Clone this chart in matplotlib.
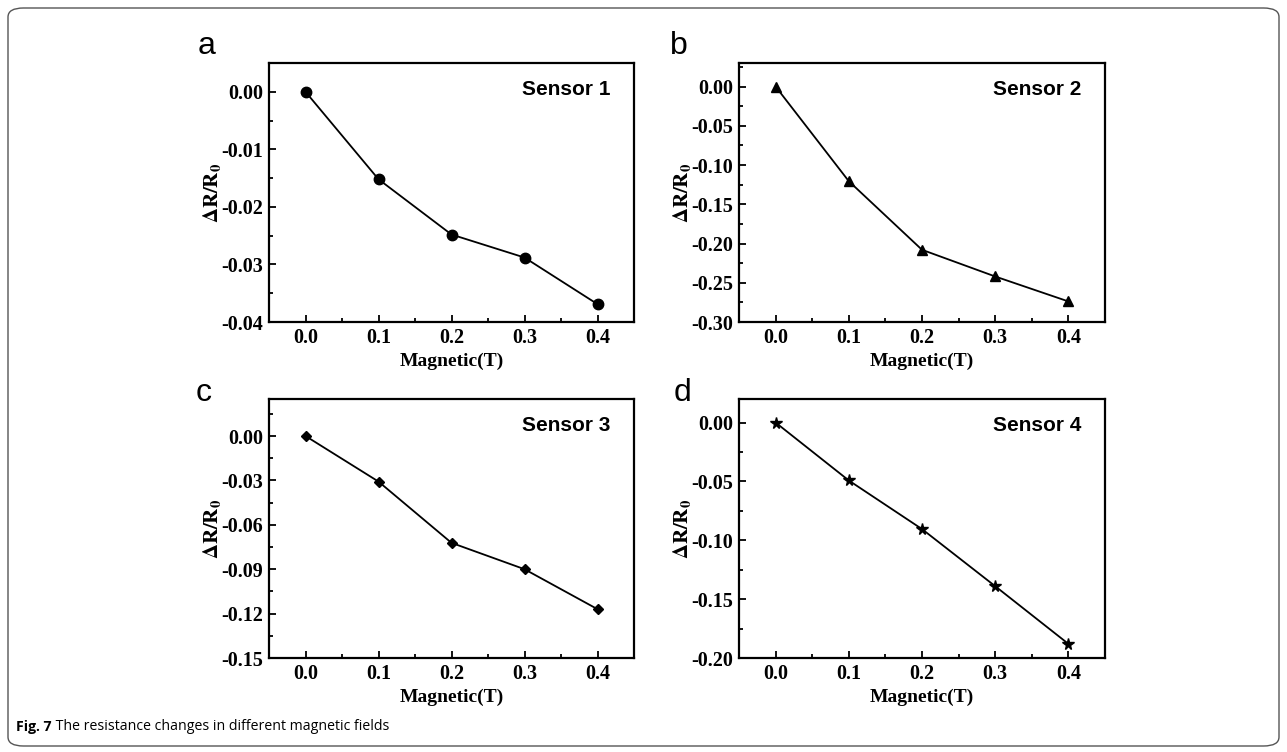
import matplotlib
matplotlib.use("Agg")
import matplotlib.pyplot as plt
from matplotlib.patches import FancyBboxPatch
from matplotlib.ticker import AutoMinorLocator
from matplotlib import font_manager

field = [0.0, 0.1, 0.2, 0.3, 0.4]
sensor1 = [0.0, -0.0152, -0.0248, -0.0288, -0.0369]
sensor2 = [0.0, -0.1206, -0.208, -0.242, -0.2738]
sensor3 = [0.0, -0.0308, -0.0722, -0.090, -0.117]
sensor4 = [0.0, -0.0492, -0.0905, -0.139, -0.188]
panel_letters = ["a", "b", "c", "d"]
sensor_names = ["Sensor 1", "Sensor 2", "Sensor 3", "Sensor 4"]
xticks = [0.0, 0.1, 0.2, 0.3, 0.4]
yticks1 = [0.00, -0.01, -0.02, -0.03, -0.04]
yticks2 = [0.00, -0.05, -0.10, -0.15, -0.20, -0.25, -0.30]
yticks3 = [0.00, -0.03, -0.06, -0.09, -0.12, -0.15]
yticks4 = [0.00, -0.05, -0.10, -0.15, -0.20]
caption_bold = "Fig. 7"
caption_text = " The resistance changes in different magnetic fields"

plt.rcParams["mathtext.fontset"] = "stix"

W, H = 1287, 752
fig = plt.figure(figsize=(W / 100, H / 100), dpi=100)

# outer rounded frame
frame = FancyBboxPatch((8 / W, 6 / H), (W - 16) / W, (H - 14) / H,
                       boxstyle="round,pad=0,rounding_size=0.012",
                       transform=fig.transFigure, fill=False,
                       edgecolor="#555555", linewidth=1.0)
fig.patches.append(frame)

series = [sensor1, sensor2, sensor3, sensor4]
ytick_sets = [yticks1, yticks2, yticks3, yticks4]
markers = ["o", "^", "D", "*"]
msizes = [7.5, 6.5, 5.5, 8.5]
ylims = [(-0.04, 0.005), (-0.30, 0.03), (-0.15, 0.025), (-0.20, 0.02)]

# axes rectangles in pixel coords (left, top, right, bottom)
rects = [(269, 63, 634, 322), (739, 63, 1105, 322),
         (269, 399, 634, 658), (739, 399, 1105, 658)]
letter_pos = [(198, 46), (670, 46), (196, 393), (674, 393)]

serif = ["Liberation Serif", "DejaVu Serif"]
sans = ["Liberation Sans", "DejaVu Sans"]

for i in range(4):
    l, t, r, b = rects[i]
    ax = fig.add_axes([l / W, 1 - b / H, (r - l) / W, (b - t) / H])
    ax.plot(field, series[i], color="black", linewidth=1.3,
            marker=markers[i], markersize=msizes[i], markerfacecolor="black",
            markeredgecolor="black")
    ax.set_xlim(-0.05, 0.45)
    ax.set_ylim(*ylims[i])
    ax.set_xticks(xticks)
    ax.set_yticks(ytick_sets[i])
    ax.set_xticklabels(["%.1f" % v for v in xticks])
    ax.set_yticklabels(["%.2f" % v for v in ytick_sets[i]])
    ax.xaxis.set_minor_locator(AutoMinorLocator(2))
    ax.yaxis.set_minor_locator(AutoMinorLocator(2))
    ax.tick_params(which="both", direction="in", top=False, right=False,
                   width=1.3, labelsize=14.5)
    ax.tick_params(which="major", length=5, pad=4)
    ax.tick_params(which="minor", length=3)
    for lab in ax.get_xticklabels() + ax.get_yticklabels():
        lab.set_fontfamily(serif)
        lab.set_fontweight("bold")
    for s in ax.spines.values():
        s.set_linewidth(1.6)
    ax.set_xlabel("Magnetic(T)", fontfamily=serif, fontweight="bold",
                  fontsize=14, labelpad=4)
    ax.set_ylabel(r"$\mathbf{\Delta R/R_0}$", fontsize=15, labelpad=-1)
    ax.text(0.935, 0.935, sensor_names[i], transform=ax.transAxes,
            ha="right", va="top", fontfamily=sans, fontweight="bold",
            fontsize=15)
    lx, ly = letter_pos[i]
    fig.text(lx / W, 1 - ly / H, panel_letters[i], fontfamily=sans,
             fontsize=23, ha="left", va="center")

# caption: choose a narrow sans if available, sized to the reference width
names = {f.name for f in font_manager.fontManager.ttflist}
cap_font = ["Liberation Sans Narrow"] if "Liberation Sans Narrow" in names else ["Open Sans"]
cap_font = cap_font + ["DejaVu Sans"]
fs = 12.0
target = 372.0
t1 = fig.text(16 / W, 1 - 727 / H, caption_bold, fontfamily=cap_font,
              fontweight="bold", fontsize=fs, ha="left", va="center")
t2 = fig.text(0, 1 - 727 / H, caption_text, fontfamily=cap_font,
              fontsize=fs, ha="left", va="center")
renderer = fig.canvas.get_renderer()
for _ in range(3):
    b1 = t1.get_window_extent(renderer)
    t2.set_x(b1.x1 / W)
    b2 = t2.get_window_extent(renderer)
    width = b2.x1 - b1.x0
    fs = fs * target / width
    t1.set_fontsize(fs)
    t2.set_fontsize(fs)
b1 = t1.get_window_extent(renderer)
t2.set_x(b1.x1 / W)

fig.savefig("out.png", dpi=100)
